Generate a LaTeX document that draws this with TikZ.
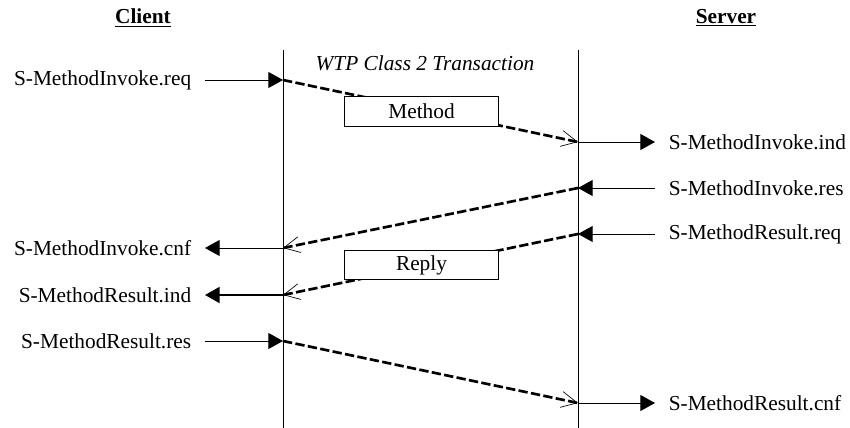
\documentclass[tikz,border=0pt]{standalone}
\usepackage{fontspec}
\setmainfont{Liberation Serif}
\usetikzlibrary{arrows.meta}
\begin{document}
\begin{tikzpicture}[
    x=0.75pt, y=-0.75pt, line width=0.7pt,
    every node/.style={font=\fontsize{16}{19}\selectfont},
    party/.style={font=\fontsize{16}{19}\selectfont\bfseries},
    prim/.style={inner xsep=10pt, inner ysep=2pt},
    pdu/.style={draw, fill=white, minimum width=116pt, minimum height=22pt,
                inner sep=0pt},
    call/.style={-{Triangle[length=11pt, width=12pt]}},
    msg/.style={line width=2pt, dash pattern=on 7pt off 2.5pt,
                -{Straight Barb[length=12pt, width=12pt, line width=0.5pt]}}
]
\useasboundingbox (0,0) rectangle (850,428);

\node (client) [party] at (143,18) {\underline{Client}};
\node (server) [party] at (726,18) {\underline{Server}};
\node (wtp) at (425,63) {\textit{WTP Class 2 Transaction}};

% lifelines
\coordinate (ctop) at (283,50);
\coordinate (cbot) at (283,428);
\coordinate (stop) at (578,50);
\coordinate (sbot) at (578,428);
\draw (ctop) -- (cbot);
\draw (stop) -- (sbot);

% points on the lifelines
\coordinate (c1) at (283,80);
\coordinate (c2) at (283,248);
\coordinate (c3) at (283,295);
\coordinate (c4) at (283,341);
\coordinate (s1) at (578,142);
\coordinate (s2) at (578,188);
\coordinate (s3) at (578,234);
\coordinate (s4) at (578,403);

% client primitives
\node (invreq) [prim, anchor=east] at (205,80) {S-MethodInvoke.req};
\node (invcnf) [prim, anchor=east] at (205,248) {S-MethodInvoke.cnf};
\node (resind) [prim, anchor=east] at (205,295) {S-MethodResult.ind};
\node (resres) [prim, anchor=east] at (205,341) {S-MethodResult.res};

% server primitives
\node (invind) [prim, anchor=west] at (655,142) {S-MethodInvoke.ind};
\node (invres) [prim, anchor=west] at (655,188) {S-MethodInvoke.res};
\node (resreq) [prim, anchor=west] at (655,234) {S-MethodResult.req};
\node (rescnf) [prim, anchor=west] at (655,403) {S-MethodResult.cnf};

\draw [call] (invreq) -- (c1);
\draw [call] (s1) -- (invind);
\draw [call] (invres) -- (s2);
\draw [call] (c2) -- (invcnf);
\draw [call] (resreq) -- (s3);
\draw [call, line width=1.5pt] (c3) -- (resind);
\draw [call] (resres) -- (c4);
\draw [call] (s4) -- (rescnf);

% transaction messages
\draw [msg] (c1) -- (s1);
\draw [msg] (s2) -- (c2);
\draw [msg] (s3) -- (c3);
\draw [msg] (c4) -- (s4);

\node (method) [pdu] at (421.5,111.5) {Method};
\node (reply) [pdu] at (421.5,265) {Reply};
\end{tikzpicture}
\end{document}
